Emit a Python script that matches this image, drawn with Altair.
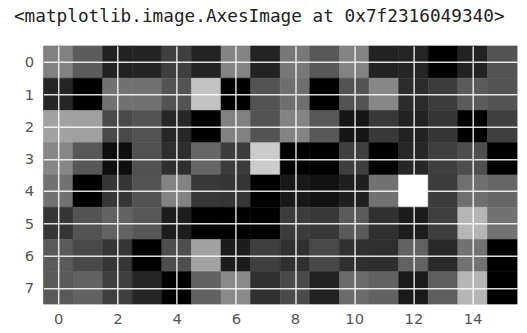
import altair as alt
import pandas as pd

# grayscale cell values (0 = black, 255 = white), 8 rows x 16 columns
row_0 = [138, 100, 34, 36, 68, 35, 140, 35, 128, 94, 140, 34, 37, 0, 34, 90]
row_1 = [37, 0, 122, 120, 90, 200, 0, 90, 118, 0, 90, 144, 46, 64, 99, 90]
row_2 = [170, 168, 79, 90, 40, 0, 138, 90, 140, 94, 17, 60, 34, 56, 0, 68]
row_3 = [144, 94, 10, 88, 48, 110, 64, 208, 0, 0, 68, 0, 40, 68, 85, 0]
row_4 = [122, 0, 58, 90, 140, 60, 57, 0, 21, 14, 30, 122, 255, 64, 119, 110]
row_5 = [56, 90, 106, 94, 28, 0, 0, 0, 64, 60, 98, 51, 26, 68, 189, 122]
row_6 = [98, 79, 58, 0, 85, 170, 26, 68, 51, 78, 51, 48, 106, 42, 122, 0]
row_7 = [96, 106, 68, 37, 0, 105, 146, 51, 80, 34, 115, 106, 22, 102, 189, 0]
rows = [row_0, row_1, row_2, row_3, row_4, row_5, row_6, row_7]

x_ticks = [0, 2, 4, 6, 8, 10, 12, 14]
y_ticks = [0, 1, 2, 3, 4, 5, 6, 7]
title_text = "<matplotlib.image.AxesImage at 0x7f2316049340>"

records = []
for r, row in enumerate(rows):
    for c, v in enumerate(row):
        records.append({"col": c, "row": r, "x0": c - 0.5, "x1": c + 0.5,
                        "y0": r - 0.5, "y1": r + 0.5, "v": v})
df = pd.DataFrame(records)

gray = alt.Scale(domain=[0, 255], range=["#000000", "#ffffff"])

chart = alt.Chart(df).mark_rect(strokeWidth=0.6).encode(
    x=alt.X("x0:Q", scale=alt.Scale(domain=[-0.5, 15.5], nice=False, zero=False),
            axis=alt.Axis(values=x_ticks, title="", grid=True, gridColor="#ffffff",
                          gridOpacity=0.85, gridWidth=1.5, domain=False, ticks=False,
                          labelFontSize=15, labelColor="#555555", labelFont="DejaVu Sans",
                          labelPadding=8, zindex=1, format="d")),
    x2="x1:Q",
    y=alt.Y("y0:Q", scale=alt.Scale(domain=[-0.5, 7.5], nice=False, zero=False, reverse=True),
            axis=alt.Axis(values=y_ticks, title="", grid=True, gridColor="#ffffff",
                          gridOpacity=0.85, gridWidth=1.5, domain=False, ticks=False,
                          labelFontSize=15, labelColor="#555555", labelFont="DejaVu Sans",
                          labelPadding=10, zindex=1, format="d")),
    y2="y1:Q",
    color=alt.Color("v:Q", scale=gray, legend=None),
    stroke=alt.Stroke("v:Q", scale=gray, legend=None),
).properties(
    width=481,
    height=262,
    title=alt.TitleParams(title_text, anchor="start", frame="group", dx=-30, offset=20,
                          font="DejaVu Sans Mono", fontSize=18, fontWeight="normal",
                          color="#222222"),
    autosize=alt.AutoSizeParams(type="none"),
    padding={"left": 36, "top": 36, "right": 2, "bottom": 27},
).configure_view(strokeWidth=0).configure(background="white")

chart.save("out.html", embed_options={"renderer": "svg", "actions": False})
